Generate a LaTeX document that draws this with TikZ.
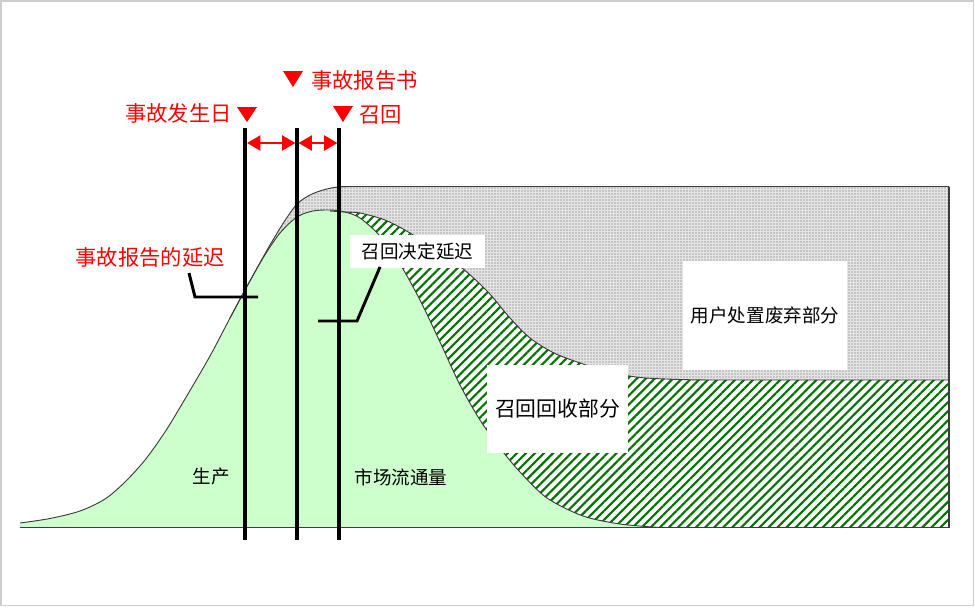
\documentclass[tikz,border=0pt]{standalone}
\usepackage{fontspec}
\setmainfont{Noto Sans CJK SC}
\usetikzlibrary{patterns.meta,arrows.meta}
\definecolor{lgreen}{RGB}{204,255,204}
\definecolor{hgreen}{RGB}{0,115,0}
\definecolor{framegray}{RGB}{205,205,205}
\definecolor{edgegray}{RGB}{60,60,60}
\definecolor{dotbg}{RGB}{228,228,228}
\definecolor{dotfg}{RGB}{95,95,95}
\tikzset{
  edgeline/.style={draw=edgegray, line width=0.7pt},
  vline/.style={draw=black, line width=3pt},
  leader/.style={draw=black, line width=2.2pt, line join=miter},
  redlab/.style={text=red, font=\fontsize{16}{18}\selectfont, inner sep=0pt},
  blacklab/.style={text=black, font=\fontsize{13.9}{16}\selectfont, inner sep=0pt},
  whitebox/.style={fill=white, draw=none, inner sep=0pt},
  redarrow/.style={draw=red, line width=2.2pt, {Triangle[length=10pt,width=11pt]}-{Triangle[length=10pt,width=11pt]}},
  redtri/.style={fill=red, draw=none},
  dotarea/.style={fill=dotbg, postaction={pattern={Dots[distance=2.25pt,radius=0.5pt]}, pattern color=dotfg}},
  hatcharea/.style={fill=white, postaction={pattern={Lines[angle=45,distance=4.8pt,line width=1.6pt]}, pattern color=hgreen}},
}
\begin{document}
\begin{tikzpicture}[x=0.75pt,y=-0.75pt]
\useasboundingbox (0,0) rectangle (975,608);
\draw[framegray, line width=1.2pt] (0.8,0.8) rectangle (973.5,605.5);

% dotted (user disposal) region
\path[dotarea] plot[smooth,tension=0.5] coordinates {(230,318) (245,290) (256,270) (270,245) (284,222) (297,204) (310,195) (323,190) (337,187) (350,186.5)}
  -- (949,186.5) -- (949,527.5) -- (230,527.5) -- cycle;
% hatched (recall recovered) region
\path[hatcharea] plot[smooth,tension=0.5] coordinates {(330,211) (345,212) (360,213) (385,220) (410,233) (435,250) (462,268) (488,292) (510,318) (530,338) (554,353) (583,364) (610,372) (640,377.5) (680,379.5) (710,380)}
  -- (949,380) -- (949,527.5) -- (330,527.5) -- cycle;
% green (production / circulation) region
\path[fill=lgreen] plot[smooth,tension=0.5] coordinates {(20,523) (50,518.5) (80,511) (105,499) (125,482) (145,460) (165,432) (185,399) (210,356) (230,318) (245,290) (263,258) (280,233) (297,217) (313,211) (330,210) (345,212) (360,218) (380,236) (400,264) (420,300) (440,342) (460,385) (480,420) (500,448) (520,472) (547,498) (583,516) (620,524) (660,527.5)}
  -- (20,527.5) -- cycle;

% outlines
\draw[edgeline] plot[smooth,tension=0.5] coordinates {(20,523) (50,518.5) (80,511) (105,499) (125,482) (145,460) (165,432) (185,399) (210,356) (230,318) (245,290) (263,258) (280,233) (297,217) (313,211) (330,210) (345,212) (360,218) (380,236) (400,264) (420,300) (440,342) (460,385) (480,420) (500,448) (520,472) (547,498) (583,516) (620,524) (660,527.5)};
\draw[edgeline] plot[smooth,tension=0.5] coordinates {(230,318) (245,290) (256,270) (270,245) (284,222) (297,204) (310,195) (323,190) (337,187) (350,186.5)} -- (949,186.5);
\draw[edgeline] plot[smooth,tension=0.5] coordinates {(330,211) (345,212) (360,213) (385,220) (410,233) (435,250) (462,268) (488,292) (510,318) (530,338) (554,353) (583,364) (610,372) (640,377.5) (680,379.5) (710,380)} -- (949,380);
\coordinate (boxTR) at (949,186.5);
\coordinate (boxBR) at (949,527.5);
\coordinate (baseL) at (20,527.5);
\draw[draw=edgegray, line width=1.1pt] (boxTR) -- (boxBR) -- (baseL);

% white label boxes
\node[whitebox, blacklab, minimum width=101.5pt, minimum height=25pt] (decide) at (417.5,251.5) {召回决定延迟};
\node[whitebox, blacklab, minimum width=123pt, minimum height=82pt] (dispose) at (765,315.5) {用户处置废弃部分};
\node[whitebox, blacklab, font=\fontsize{15.6}{18}\selectfont, minimum width=106pt, minimum height=66pt] (recover) at (557.5,409) {召回回收部分};

% plain labels
\node[blacklab] (prod) at (211,477) {生产};
\node[blacklab] (market) at (401,477) {市场流通量};

% vertical event lines
\coordinate (L1t) at (245,128); \coordinate (L1b) at (245,540);
\coordinate (L2t) at (297,128); \coordinate (L2b) at (297,540);
\coordinate (L3t) at (339,128); \coordinate (L3b) at (339,540);
\draw[vline] (L1t) -- (L1b);
\draw[vline] (L2t) -- (L2b);
\draw[vline] (L3t) -- (L3b);

% red double arrows
\coordinate (A1l) at (247,143); \coordinate (A1r) at (295.5,143);
\coordinate (A2l) at (298.5,143); \coordinate (A2r) at (337.5,143);
\draw[redarrow] (A1l) -- (A1r);
\draw[redarrow] (A2l) -- (A2r);

% red triangles and labels
\fill[redtri] (237,107) -- (257,107) -- (247,122) -- cycle;
\fill[redtri] (283,71) -- (303,71) -- (293,87) -- cycle;
\fill[redtri] (333,106) -- (353,106) -- (343,122) -- cycle;
\node[redlab, anchor=east] (occur) at (232,113) {事故发生日};
\node[redlab, anchor=west] (report) at (311,80) {事故报告书};
\node[redlab, anchor=west] (recall) at (359,115) {召回};
\node[redlab] (repdelay) at (150,257) {事故报告的延迟};

% leader lines
\coordinate (ld1a) at (189,273); \coordinate (ld1b) at (195,297); \coordinate (ld1c) at (258,297);
\draw[leader] (ld1a) -- (ld1b) -- (ld1c);
\coordinate (ld2a) at (380,267); \coordinate (ld2b) at (357,321); \coordinate (ld2c) at (318,321);
\draw[leader] (ld2a) -- (ld2b) -- (ld2c);
\end{tikzpicture}
\end{document}
